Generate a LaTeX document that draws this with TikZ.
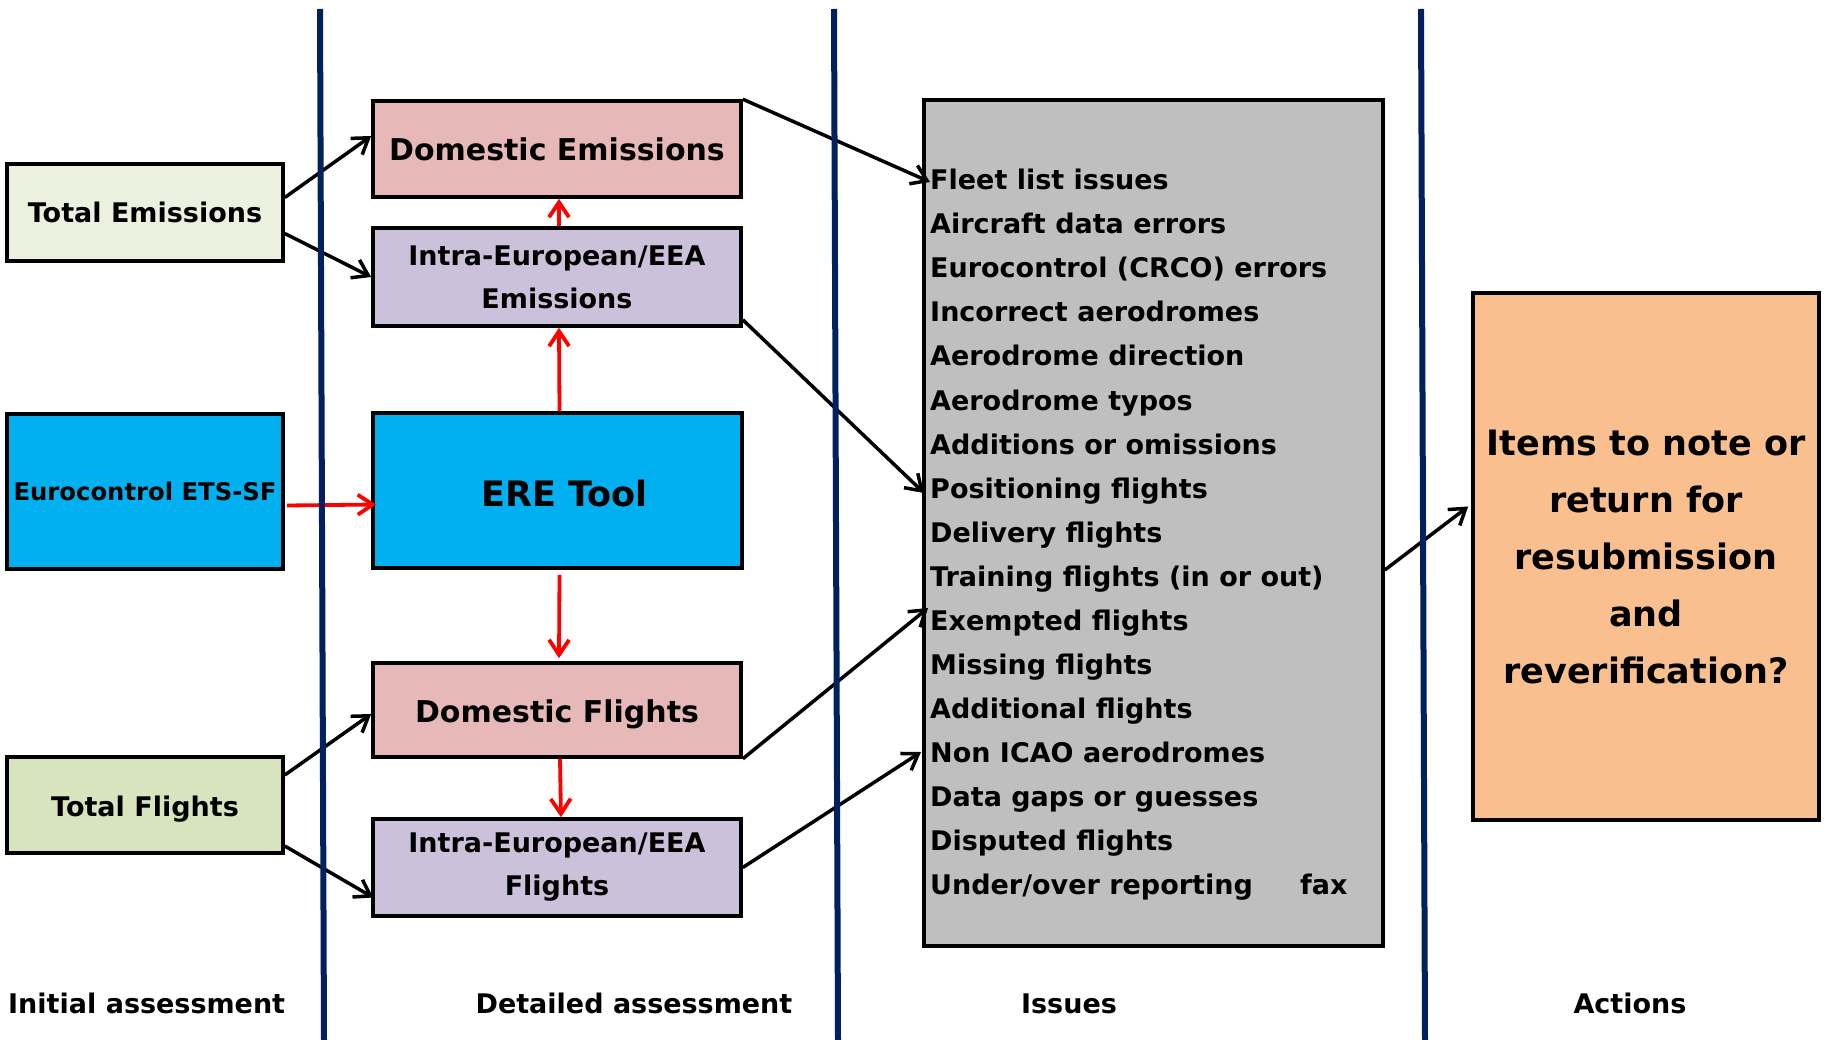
\documentclass[tikz,border=0pt]{standalone}
\usepackage{fontspec}
\setmainfont{DejaVu Sans}
\usetikzlibrary{arrows.meta,calc}
\definecolor{navyline}{HTML}{002060}
\definecolor{teFill}{HTML}{EBF1DE}
\definecolor{tfFill}{HTML}{D7E4BD}
\definecolor{domFill}{HTML}{E6B9B8}
\definecolor{intraFill}{HTML}{CCC1DA}
\definecolor{toolFill}{HTML}{00B0F0}
\definecolor{issueFill}{HTML}{BFBFBF}
\definecolor{actFill}{HTML}{F9BF8F}
\begin{document}
\begin{tikzpicture}[x=1pt,y=-1pt,
  box/.style={draw=black, line width=3.6pt, rectangle, inner sep=0pt, align=center},
  fsA/.style={font=\fontsize{27}{43}\selectfont\bfseries},
  fsB/.style={font=\fontsize{30}{40}\selectfont\bfseries},
  fsC/.style={font=\fontsize{24.3}{30}\selectfont\bfseries},
  fsD/.style={font=\fontsize{35}{45}\selectfont\bfseries},
  fsE/.style={font=\fontsize{35}{57}\selectfont\bfseries},
  blkarr/.style={draw=black, line width=3.5pt, -{Straight Barb[length=15pt,width=20pt]}},
  redarr/.style={draw=red, line width=3.8pt, -{Straight Barb[length=15pt,width=20pt]}},
  lane/.style={draw=navyline, line width=6pt},
  issue/.style={anchor=base west, inner sep=0pt, font=\fontsize{27}{33}\selectfont\bfseries},
  lbl/.style={anchor=base, inner sep=0pt, font=\fontsize{27}{33}\selectfont\bfseries}]
\useasboundingbox (0,0) rectangle (1829,1040);

% left column
\node[box, fsA, fill=teFill, minimum width=276pt, minimum height=97pt] (te) at (145,212.5) {Total Emissions};
\node[box, fsC, fill=toolFill, minimum width=276pt, minimum height=155pt] (ets) at (145,491.5) {Eurocontrol ETS-SF};
\node[box, fsA, fill=tfFill, minimum width=276pt, minimum height=96pt] (tf) at (145,805) {\raisebox{-4pt}[\height][\depth]{Total Flights}};

% middle column
\node[box, fsB, fill=domFill, minimum width=368pt, minimum height=96pt] (de) at (557,149) {Domestic Emissions};
\node[box, fsA, fill=intraFill, minimum width=368pt, minimum height=98pt] (ie) at (557,277) {Intra-European/EEA\\Emissions};
\node[box, fsD, fill=toolFill, minimum width=369pt, minimum height=155pt] (ere) at (557.5,490.5) {\hspace*{14pt}\raisebox{-3pt}[\height][\depth]{ERE Tool}};
\node[box, fsB, fill=domFill, minimum width=368pt, minimum height=94pt] (df) at (557,710) {\raisebox{-4pt}[\height][\depth]{Domestic Flights}};
\node[box, fsA, fill=intraFill, minimum width=368pt, minimum height=97pt] (iff) at (557,867.5) {Intra-European/EEA\\Flights};

% issues
\node[box, fill=issueFill, minimum width=459pt, minimum height=846pt] (gray) at (1153.5,523) {};
\foreach \t [count=\k from 0] in {Fleet list issues,Aircraft data errors,Eurocontrol (CRCO) errors,Incorrect aerodromes,Aerodrome direction,Aerodrome typos,Additions or omissions,Positioning flights,Delivery flights,Training flights (in or out),Exempted flights,Missing flights,Additional flights,Non ICAO aerodromes,Data gaps or guesses,Disputed flights,Under/over reporting}
  \node[issue] (i\k) at (930,190+44*\k) {\t};
\node[issue] (fax) at (1300,894) {fax};

% actions
\node[box, fsE, fill=actFill, minimum width=346pt, minimum height=527pt] (act) at (1646,556.5) {Items to note or\\return for\\resubmission\\and\\reverification?};

% black connectors
\draw[blkarr] ($(te.east)+(0,-15)$) -- ($(de.west)+(0,-13)$);
\draw[blkarr] ($(te.east)+(0,21)$) -- (ie.west);
\draw[blkarr] ($(tf.east)+(0,-30)$) -- ($(df.west)+(0,4)$);
\draw[blkarr] ($(tf.east)+(0,41)$) -- ($(iff.west)+(2,30)$);
\draw[blkarr] (de.north east) -- ($(i0.base west)+(0,-8)$);
\draw[blkarr] ($(ie.south east)+(0,-8)$) -- ($(i7.base west)+(-6,-5)$);
\draw[blkarr] (df.south east) -- ($(i10.base west)+(-2,-22)$);
\draw[blkarr] (iff.east) -- ($(i13.base west)+(-9,-10)$);
\draw[blkarr] ($(gray.east)+(0,47)$) -- ($(act.west)+(-3,-50)$);

% red connectors
\draw[redarr] ($(ets.east)+(2,14)$) -- ($(ere.west)+(5,14)$);
\draw[redarr] ($(ere.north)+(2,0)$) -- ($(ie.south)+(2,0)$);
\draw[redarr] ($(ie.north)+(2,0)$) -- ($(de.south)+(2,0)$);
\draw[redarr] ($(ere.south)+(2,5)$) -- ($(df.north)+(2,-3)$);
\draw[redarr] ($(df.south)+(3,0)$) -- ($(iff.north)+(4,0)$);

% lane separators
\coordinate (l1t) at (320,9); \coordinate (l1b) at (324,1040);
\coordinate (l2t) at (834,9); \coordinate (l2b) at (838,1040);
\coordinate (l3t) at (1421,9); \coordinate (l3b) at (1425,1040);
\draw[lane] (l1t) -- (l1b);
\draw[lane] (l2t) -- (l2b);
\draw[lane] (l3t) -- (l3b);

% column labels
\node[lbl, anchor=base west] (c1) at (8,1013) {Initial assessment};
\node[lbl] (c2) at (634,1013) {Detailed assessment};
\node[lbl] (c3) at (1069,1013) {Issues};
\node[lbl] (c4) at (1630,1013) {Actions};
\end{tikzpicture}
\end{document}
